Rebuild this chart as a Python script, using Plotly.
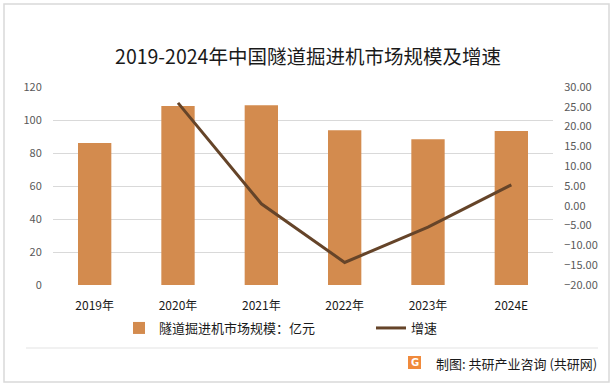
import plotly.graph_objects as go

categories = ["2019年", "2020年", "2021年", "2022年", "2023年", "2024E"]
market_size = [86, 108.5, 109, 93.8, 88.4, 93.3]
growth_cats = ["2020年", "2021年", "2022年", "2023年", "2024E"]
growth_rate = [26.0, 0.5, -14.3, -5.4, 5.3]
left_ticks = [0, 20, 40, 60, 80, 100, 120]
right_ticks = [-20, -15, -10, -5, 0, 5, 10, 15, 20, 25, 30]

FONT = "Noto Sans CJK SC"
L, R, T, B = 53, 63, 87, 102
W, H = 616, 387
pw, ph = W - L - R, H - T - B

def px(x):
    return (x - L) / pw

def py(y):
    return (H - B - y) / ph

fig = go.Figure()
fig.add_trace(go.Bar(
    x=categories, y=market_size, name="隧道掘进机市场规模：亿元",
    marker=dict(color="#D38B4E", line=dict(width=0)), width=0.4, legend="legend",
))
fig.add_trace(go.Scatter(
    x=growth_cats, y=growth_rate, name="增速", yaxis="y2", mode="lines",
    line=dict(color="#654429", width=3), legend="legend2",
))

legend_common = dict(orientation="h", xanchor="left", yanchor="middle",
                     xref="paper", yref="paper",
                     font=dict(size=13, color="#1a1a1a", family=FONT),
                     bgcolor="rgba(0,0,0,0)", itemwidth=30)

fig.update_layout(
    width=W, height=H,
    margin=dict(l=L, r=R, t=T, b=B, autoexpand=False),
    paper_bgcolor="white", plot_bgcolor="white",
    font=dict(family=FONT, color="#404040"),
    title=dict(text="2019-2024年中国隧道掘进机市场规模及增速", x=0.5, xanchor="center",
               y=1 - 57 / H, yanchor="middle",
               font=dict(size=19.5, color="#1a1a1a", family=FONT)),
    showlegend=True,
    legend=dict(x=px(119), y=py(328), **legend_common),
    legend2=dict(x=px(371), y=py(328), **legend_common),
    bargap=0.6,
    xaxis=dict(showline=False, showgrid=False, ticks="outside", ticklen=10,
               tickcolor="rgba(0,0,0,0)",
               tickfont=dict(size=12, color="#1a1a1a", family=FONT)),
    yaxis=dict(range=[0, 120], tickvals=left_ticks, showgrid=True, gridcolor="#D9D9D9",
               gridwidth=1, zeroline=False, showline=False, ticks="outside", ticklen=8,
               tickcolor="rgba(0,0,0,0)",
               tickfont=dict(size=11, color="#595959", family=FONT)),
    yaxis2=dict(range=[-20, 30], tickvals=right_ticks, overlaying="y", side="right",
                showgrid=False, zeroline=False, showline=False,
                tickformat=".2f", ticksuffix="%", ticks="outside", ticklen=8,
                tickcolor="rgba(0,0,0,0)",
                tickfont=dict(size=11, color="#595959", family=FONT)),
)

shapes = [
    dict(type="rect", xref="paper", yref="paper", x0=px(4), x1=px(609), y0=py(382), y1=py(4),
         line=dict(color="#D9D9D9", width=1.5), fillcolor="rgba(0,0,0,0)", layer="below"),
    dict(type="line", xref="paper", yref="paper", x0=px(26), x1=px(598), y0=py(348), y1=py(348),
         line=dict(color="#E3E3E3", width=1)),
    dict(type="rect", xref="paper", yref="paper", x0=px(408), x1=px(421), y0=py(369), y1=py(356),
         line=dict(width=0), fillcolor="#F08A3C"),
]
fig.update_layout(shapes=shapes)
fig.add_annotation(text="制图: 共研产业咨询 (共研网)", xref="paper", yref="paper",
                   x=px(599), y=py(363), xanchor="right", yanchor="middle", showarrow=False,
                   font=dict(size=13, color="#1a1a1a", family=FONT))
fig.add_annotation(text="<b>G</b>", xref="paper", yref="paper",
                   x=px(414.5), y=py(362.5), xanchor="center", yanchor="middle", showarrow=False,
                   font=dict(size=10, color="white", family="DejaVu Sans"))

fig.write_html("out.html", config={"displayModeBar": False},
               post_script="document.body.style.margin='0';document.body.style.overflow='hidden';")
